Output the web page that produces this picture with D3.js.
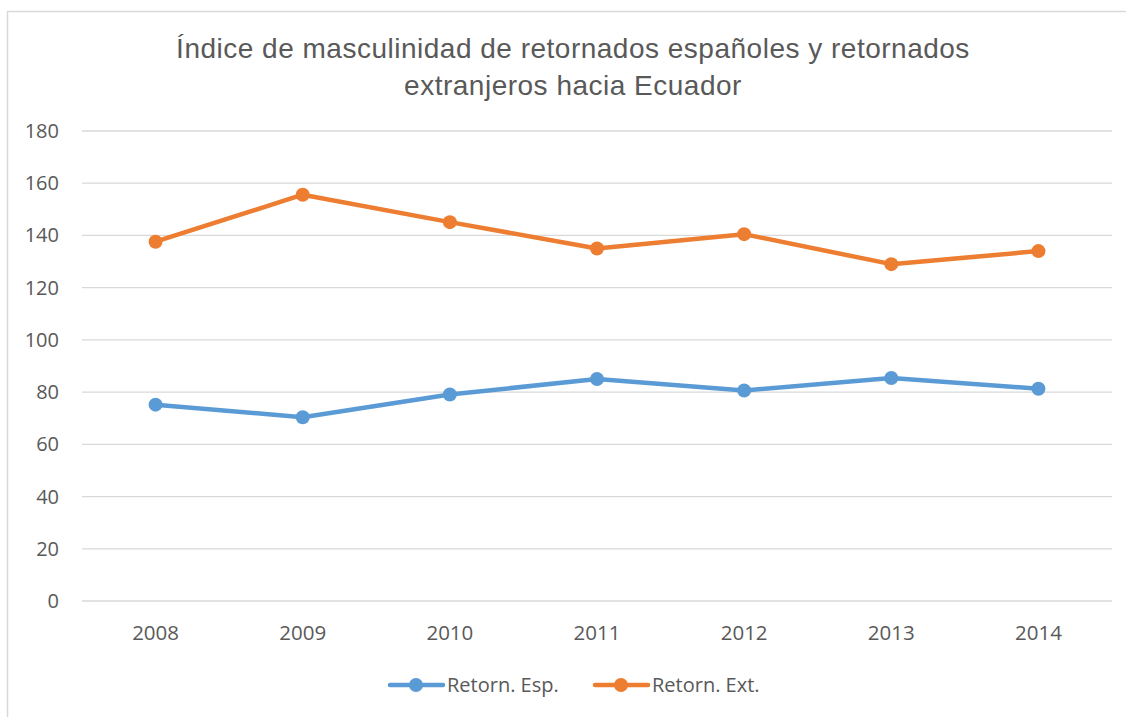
<!DOCTYPE html>
<html>
<head>
<meta charset="utf-8">
<script src="https://cdn.jsdelivr.net/npm/d3@7"></script>
<style>
  body { margin: 0; background: #fff; }
  svg { display: block; font-family: "Open Sans", "Noto Sans", sans-serif; }
</style>
</head>
<body>
<svg width="1126" height="717"></svg>
<script>
const years = ["2008", "2009", "2010", "2011", "2012", "2013", "2014"];
const retornEsp = [75.2, 70.4, 79.1, 85.0, 80.6, 85.4, 81.3];
const retornExt = [137.6, 155.6, 145.1, 135.0, 140.5, 129.0, 134.0];
const yTicks = [0, 20, 40, 60, 80, 100, 120, 140, 160, 180];
const seriesNames = ["Retorn. Esp.", "Retorn. Ext."];
const colors = ["#5b9bd5", "#ed7d31"];

const svg = d3.select("svg"),
      margin = {top: 131, right: 14, bottom: 116, left: 82},
      width = +svg.attr("width") - margin.left - margin.right,
      height = +svg.attr("height") - margin.top - margin.bottom;

// chart frame (cut off at right/bottom like the reference)
svg.append("rect")
  .attr("x", 7.5).attr("y", 11.5)
  .attr("width", 1130).attr("height", 720)
  .attr("fill", "#fff").attr("stroke", "#d9d9d9").attr("stroke-width", 1.5);

const title = svg.append("text")
  .attr("text-anchor", "middle")
  .attr("fill", "#595959")
  .style("font-family", "'Liberation Sans', Arial, sans-serif")
  .style("font-size", "28px")
  .style("letter-spacing", "0.5px");
title.append("tspan").attr("x", 573).attr("y", 58).text("Índice de masculinidad de retornados españoles y retornados");
title.append("tspan").attr("x", 573).attr("y", 95).text("extranjeros hacia Ecuador");

const g = svg.append("g").attr("transform", `translate(${margin.left},${margin.top})`);

const x = d3.scaleBand().domain(years).range([0, width]);
const y = d3.scaleLinear().domain([0, 180]).range([height, 0]);

// gridlines
g.append("g")
  .selectAll("line")
  .data(yTicks)
  .join("line")
  .attr("x1", 0).attr("x2", width)
  .attr("y1", d => y(d)).attr("y2", d => y(d))
  .attr("stroke", "#d9d9d9").attr("stroke-width", 1.3);

// y labels
g.append("g")
  .selectAll("text")
  .data(yTicks)
  .join("text")
  .attr("x", -23).attr("y", d => y(d))
  .attr("dy", "0.35em")
  .attr("text-anchor", "end")
  .attr("fill", "#595959")
  .style("font-size", "20px")
  .text(d => d);

// x labels
g.append("g")
  .selectAll("text")
  .data(years)
  .join("text")
  .attr("x", d => x(d) + x.bandwidth() / 2)
  .attr("y", height + 39)
  .attr("text-anchor", "middle")
  .attr("fill", "#595959")
  .style("font-size", "20.5px")
  .text(d => d);

const series = [retornEsp, retornExt];
const line = d3.line()
  .x((d, i) => x(years[i]) + x.bandwidth() / 2)
  .y(d => y(d));

series.forEach((vals, s) => {
  g.append("path")
    .datum(vals)
    .attr("fill", "none")
    .attr("stroke", colors[s])
    .attr("stroke-width", 4.5)
    .attr("stroke-linejoin", "round")
    .attr("stroke-linecap", "round")
    .attr("d", line);

  g.append("g")
    .selectAll("circle")
    .data(vals)
    .join("circle")
    .attr("cx", (d, i) => x(years[i]) + x.bandwidth() / 2)
    .attr("cy", d => y(d))
    .attr("r", 7)
    .attr("fill", colors[s]);
});

// legend
const legend = svg.append("g").attr("transform", "translate(388,685)");
const legendX = [0, 205];
seriesNames.forEach((name, i) => {
  const lg = legend.append("g").attr("transform", `translate(${legendX[i]},0)`);
  lg.append("line")
    .attr("x1", 2).attr("x2", 55)
    .attr("stroke", colors[i]).attr("stroke-width", 4.5)
    .attr("stroke-linecap", "round");
  lg.append("circle").attr("cx", 28).attr("r", 7).attr("fill", colors[i]);
  lg.append("text")
    .attr("x", 59).attr("dy", "0.35em")
    .attr("fill", "#595959")
    .style("font-size", "20px")
    .text(name);
});
</script>
</body>
</html>
